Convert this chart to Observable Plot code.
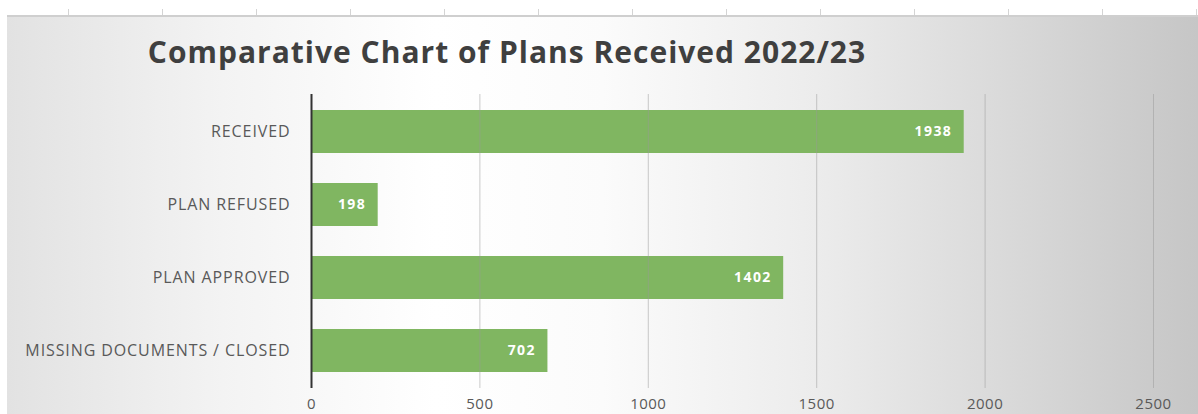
<!DOCTYPE html>
<html>
<head>
<meta charset="utf-8">
<script src="https://cdn.jsdelivr.net/npm/d3@7"></script>
<script src="https://cdn.jsdelivr.net/npm/@observablehq/plot@0.6"></script>
<style>
  html, body { margin: 0; padding: 0; background: #fff; }
  #wrap { position: relative; width: 1198px; height: 414px; overflow: hidden; }
  #ticks { position: absolute; left: 7px; right: 0; top: 9px; height: 6px;
    background-image: repeating-linear-gradient(90deg, #d4d4d4 0 1px, transparent 1px 94px);
    background-position: 61px 0; }
  #panel { position: absolute; left: 7px; right: 0; top: 15px; bottom: 0;
    border-top: 2px solid #cfcfcf;
    background: linear-gradient(to right, #e2e2e2 0%, #f3f3f3 18%, #ffffff 36%, #fbfbfb 50%, #ececec 68%, #d8d8d8 85%, #c6c6c6 100%); }
  #title { position: absolute; left: 0; width: 1014px; top: 32px; text-align: center;
    font-family: "Open Sans", sans-serif; font-weight: 700; font-size: 30px; letter-spacing: 1px;
    color: #3f3f3f; line-height: 40px; }
  #chart { position: absolute; left: 0; top: 80px; }
  #chart g[aria-label="y-axis tick label"] text { letter-spacing: 0.9px; }
  #chart g[aria-label="x-axis tick label"] text { letter-spacing: 0.5px; }
  #chart g[aria-label="text"] text { letter-spacing: 1.4px; }
</style>
</head>
<body>
<div id="wrap">
  <div id="ticks"></div>
  <div id="panel"></div>
  <div id="title">Comparative Chart of Plans Received 2022/23</div>
  <div id="chart"></div>
</div>
<script>
const categories = ["RECEIVED", "PLAN REFUSED", "PLAN APPROVED", "MISSING DOCUMENTS / CLOSED"];
const values = [1938, 198, 1402, 702];
const xTicks = [0, 500, 1000, 1500, 2000, 2500];

const data = categories.map((c, i) => ({category: c, value: values[i]}));

const chart = Plot.plot({
  width: 1198,
  height: 334,
  marginTop: 14,
  marginBottom: 26,
  marginLeft: 311,
  marginRight: 45,
  style: {background: "transparent", fontFamily: "'Open Sans', sans-serif", overflow: "visible"},
  x: {domain: [0, 2500], label: null},
  y: {domain: categories, paddingInner: 0.415, paddingOuter: 0.2075, label: null},
  marks: [
    Plot.barX(data, {x: "value", y: "category", fill: "#80b661"}),
    Plot.gridX(xTicks.slice(1), {stroke: "#9a9a9a", strokeOpacity: 0.5}),
    Plot.ruleX([0], {stroke: "#333333", strokeWidth: 2}),
    Plot.text(data, {x: "value", y: "category", text: d => String(d.value), textAnchor: "end", dx: -12,
      fill: "white", fontWeight: "bold", fontSize: 14}),
    Plot.axisX({ticks: xTicks, tickFormat: d => String(d), tickSize: 0, tickPadding: 10, fontSize: 15, fill: "#595959", label: null}),
    Plot.axisY({tickSize: 0, tickPadding: 21, fontSize: 16, fill: "#595959", label: null})
  ]
});
document.getElementById("chart").appendChild(chart);
</script>
</body>
</html>
